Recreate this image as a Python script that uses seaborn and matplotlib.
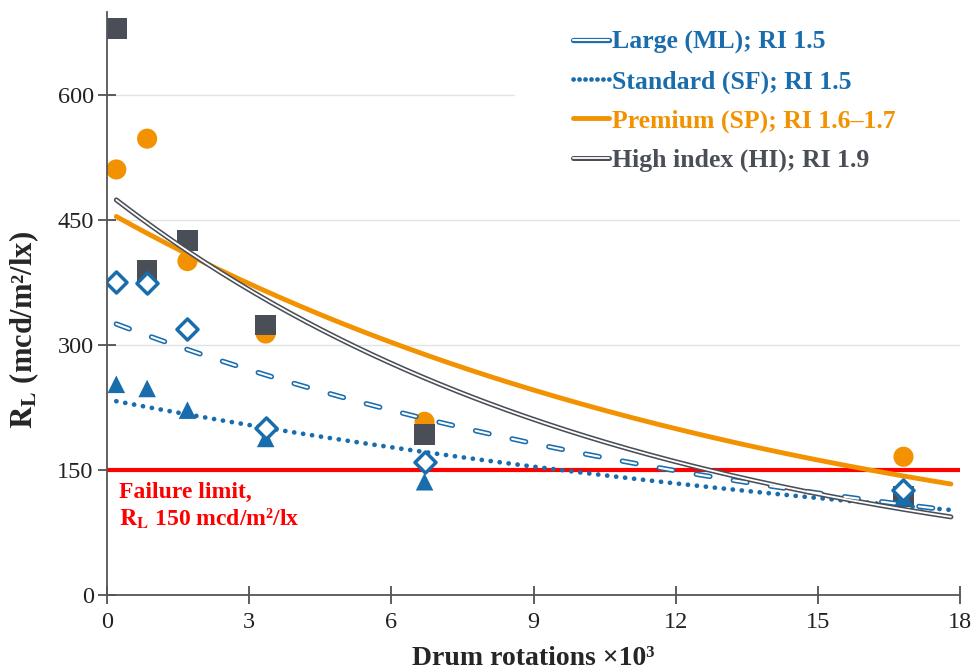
import numpy as np
import pandas as pd
import matplotlib
matplotlib.use("Agg")
import matplotlib.pyplot as plt
import seaborn as sns
from matplotlib.lines import Line2D
from matplotlib.patches import Rectangle
from matplotlib.legend_handler import HandlerTuple

sns.set_style("white")
plt.rcParams['font.family'] = ['Liberation Serif', 'DejaVu Serif']
plt.rcParams['mathtext.fontset'] = 'stix'
plt.rcParams['lines.scale_dashes'] = False

# ---- data ----
rotations = [0.2, 0.85, 1.7, 3.35, 6.7, 16.8]
ml_values = [376, 375, 320, 200, 160, 126]     # Large (ML)
sf_values = [253, 248, 222, 188, 136, 118]     # Standard (SF)
sp_values = [511, 548, 401, 314, 208, 166]     # Premium (SP)
hi_values = [680, 390, 426, 324, 193, 118]     # High index (HI)
labels = ["Large (ML); RI 1.5", "Standard (SF); RI 1.5",
          "Premium (SP); RI 1.6–1.7", "High index (HI); RI 1.9"]
failure_limit = 150
trend_range = [0.2, 17.8]
x_ticks = [0, 3, 6, 9, 12, 15, 18]
y_ticks = [0, 150, 300, 450, 600]

BLUE = "#1a6dad"
ORANGE = "#f39200"
GRAY = "#4a4f57"
RED = "#ff0000"

ML_DASH = [10, 17]
SF_DOT = [0.1, 6.4]

fig = plt.figure(figsize=(9.8, 6.72), dpi=100)
ax = fig.add_axes([0.109, 0.1146, 0.871, 0.8674])

# grid
for yv in y_ticks[1:]:
    ax.axhline(yv, color="#e3e3e3", lw=1.0, zorder=0)

# white legend background box (covers grid behind legend)
ax.add_patch(Rectangle((0.478, 0.686), 0.55, 0.35, transform=ax.transAxes,
                       facecolor="white", edgecolor="none", zorder=0.5,
                       clip_on=False))

# exponential trendlines fitted to the data
def expfit(vals):
    b, a = np.polyfit(np.array(rotations), np.log(np.array(vals, float)), 1)
    xs = np.linspace(trend_range[0], trend_range[1], 200)
    return pd.DataFrame({"x": xs, "y": np.exp(a) * np.exp(b * xs)})

ml_fit = expfit(ml_values)
sf_fit = expfit(sf_values)
sp_fit = expfit(sp_values)
hi_fit = expfit(hi_values)

# ML: double dashed line
sns.lineplot(data=ml_fit, x="x", y="y", ax=ax, color=BLUE, lw=3.8,
             zorder=3, legend=False)
ax.lines[-1].set_dashes(ML_DASH)
ax.lines[-1].set_dash_capstyle("round")
sns.lineplot(data=ml_fit, x="x", y="y", ax=ax, color="white", lw=1.5,
             zorder=3.1, legend=False)
ax.lines[-1].set_dashes(ML_DASH)
ax.lines[-1].set_dash_capstyle("round")

# SF: dotted
sns.lineplot(data=sf_fit, x="x", y="y", ax=ax, color=BLUE, lw=3.4,
             zorder=3, legend=False)
ax.lines[-1].set_dashes(SF_DOT)
ax.lines[-1].set_dash_capstyle("round")

# SP: solid orange
sns.lineplot(data=sp_fit, x="x", y="y", ax=ax, color=ORANGE, lw=3.5,
             zorder=3, legend=False)
ax.lines[-1].set_solid_capstyle("round")

# HI: double gray line
sns.lineplot(data=hi_fit, x="x", y="y", ax=ax, color=GRAY, lw=3.6,
             zorder=3, legend=False)
ax.lines[-1].set_solid_capstyle("round")
sns.lineplot(data=hi_fit, x="x", y="y", ax=ax, color="white", lw=1.3,
             zorder=3.1, legend=False)
ax.lines[-1].set_solid_capstyle("round")

# failure limit
ax.axhline(failure_limit, color=RED, lw=3, zorder=2.5)
ax.text(0.25, failure_limit - 14, "Failure limit,\n$\\mathbf{R_L}$ 150 mcd/m²/lx",
        color=RED, fontsize=17, fontweight="bold", va="top", ha="left",
        linespacing=1.2)

# markers
sns.scatterplot(x=rotations, y=sp_values, ax=ax, marker="o", s=210,
                color=ORANGE, edgecolor="none", zorder=2, legend=False)
sns.scatterplot(x=rotations, y=hi_values, ax=ax, marker="s", s=220,
                color=GRAY, edgecolor="none", zorder=2.2, legend=False)
sns.scatterplot(x=rotations, y=sf_values, ax=ax, marker="^", s=160,
                color=BLUE, edgecolor="none", zorder=4, legend=False)
sns.scatterplot(x=rotations, y=ml_values, ax=ax, marker="D", s=115,
                facecolor="white", edgecolor=BLUE, linewidth=2.5, zorder=4.2,
                legend=False)

# axes styling
ax.set_xlim(0, 18)
ax.set_ylim(0, 700)
ax.set_xticks(x_ticks)
ax.set_yticks(y_ticks)
ax.tick_params(axis="both", which="major", bottom=True, left=True,
               direction="inout", length=13, width=1.1,
               color="#333333", labelsize=17.5, labelcolor="#222222")
ax.tick_params(axis="x", pad=6)
ax.tick_params(axis="y", pad=3)
for s in ["top", "right"]:
    ax.spines[s].set_visible(False)
for s in ["left", "bottom"]:
    ax.spines[s].set_color("#555555")
    ax.spines[s].set_linewidth(1.3)
    ax.spines[s].set_zorder(5)
ax.set_xlabel("Drum rotations ×10³", fontsize=20, fontweight="bold", labelpad=9)
ax.set_ylabel("$\\mathbf{R_L}$ (mcd/m²/lx)", fontsize=22, fontweight="bold")
ax.yaxis.set_label_coords(-0.077, 0.455)

# legend
h_ml = (Line2D([], [], color=BLUE, lw=3.8, solid_capstyle="round"),
        Line2D([], [], color="white", lw=1.5, solid_capstyle="round"))
h_sf = Line2D([], [], color=BLUE, lw=3.4, dashes=[0.1, 4.2], dash_capstyle="round")
h_sp = Line2D([], [], color=ORANGE, lw=3.5)
h_hi = (Line2D([], [], color=GRAY, lw=3.6, solid_capstyle="round"),
        Line2D([], [], color="white", lw=1.3, solid_capstyle="round"))
leg = ax.legend([h_ml, h_sf, h_sp, h_hi], labels,
                handler_map={tuple: HandlerTuple(ndivide=1, pad=0)},
                loc="upper left", bbox_to_anchor=(0.546, 0.968),
                frameon=False, borderpad=0.0,
                fontsize=18.5, handlelength=1.4, handletextpad=0.12,
                labelspacing=0.62, borderaxespad=0.0)
for t, c in zip(leg.get_texts(), [BLUE, BLUE, ORANGE, GRAY]):
    t.set_color(c)
    t.set_fontweight("bold")
leg.set_zorder(1.5)

fig.savefig("out.png", dpi=100)
